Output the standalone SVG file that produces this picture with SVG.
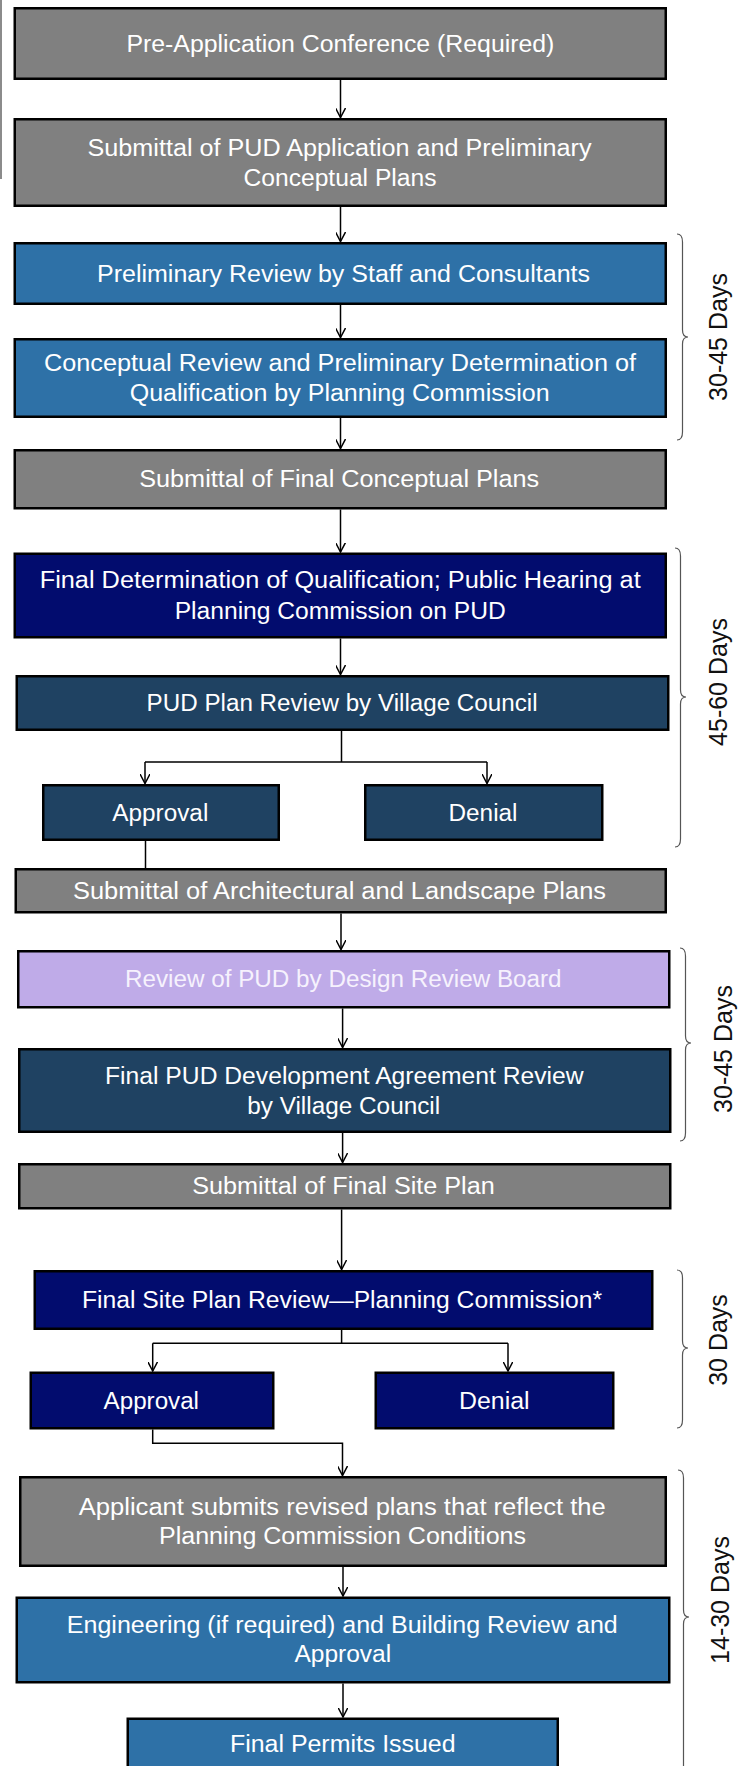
<svg xmlns="http://www.w3.org/2000/svg" width="748" height="1766" viewBox="0 0 748 1766">
<defs>
<marker id="arr" viewBox="0 0 10 10" refX="9.5" refY="5" markerWidth="10" markerHeight="10" markerUnits="userSpaceOnUse" orient="auto">
<path d="M0,0 L9.5,5 L0,10" fill="none" stroke="#000" stroke-width="1.5"/>
</marker>
<style>
rect{stroke:#000;stroke-width:2.5}
.gray{fill:#808080}
.blue{fill:#2E71A7}
.navy{fill:#020C6E}
.slate{fill:#1F4262}
.lav{fill:#BFABE8}
.t{font-family:"Liberation Sans",Arial,sans-serif;font-size:23px;fill:#fff;text-anchor:middle}
.lt{fill:#F6F2FD}
.c{fill:none;stroke:#000;stroke-width:1.5}
.br{fill:none;stroke:#555;stroke-width:1.2}
.d{font-family:"Liberation Sans",Arial,sans-serif;font-size:25px;fill:#111;text-anchor:middle}
</style>
</defs>
<rect width="748" height="1766" fill="#fff" style="stroke:none"/>
<line x1="1" y1="0" x2="1" y2="179" stroke="#6e6e6e" stroke-width="1.6"/>

<g id="n1"><rect class="gray" x="14.75" y="8.25" width="651" height="70.5"/><text class="t" x="340.4" y="51.5" textLength="428" lengthAdjust="spacingAndGlyphs">Pre-Application Conference (Required)</text></g>
<g id="n2"><rect class="gray" x="14.75" y="119.25" width="651" height="86.5"/><text class="t" x="339.5" y="155.5" textLength="504" lengthAdjust="spacingAndGlyphs">Submittal of PUD Application and Preliminary</text><text class="t" x="340" y="185.5" textLength="193" lengthAdjust="spacingAndGlyphs">Conceptual Plans</text></g>
<g id="n3"><rect class="blue" x="14.75" y="243.25" width="651" height="60.5"/><text class="t" x="343.5" y="281.5" textLength="493" lengthAdjust="spacingAndGlyphs">Preliminary Review by Staff and Consultants</text></g>
<g id="n4"><rect class="blue" x="14.75" y="339.25" width="651" height="77.5"/><text class="t" x="340" y="371" textLength="592" lengthAdjust="spacingAndGlyphs">Conceptual Review and Preliminary Determination of</text><text class="t" x="339.7" y="401" textLength="420" lengthAdjust="spacingAndGlyphs">Qualification by Planning Commission</text></g>
<g id="n5"><rect class="gray" x="14.75" y="450.25" width="651" height="58"/><text class="t" x="339.2" y="487" textLength="400" lengthAdjust="spacingAndGlyphs">Submittal of Final Conceptual Plans</text></g>
<g id="n6"><rect class="navy" x="14.75" y="553.75" width="651" height="83.5"/><text class="t" x="340.2" y="588" textLength="601" lengthAdjust="spacingAndGlyphs">Final Determination of Qualification; Public Hearing at</text><text class="t" x="340.2" y="619" textLength="331" lengthAdjust="spacingAndGlyphs">Planning Commission on PUD</text></g>
<g id="n7"><rect class="slate" x="16.75" y="676.25" width="651.5" height="53.5"/><text class="t" x="342.1" y="711" textLength="391" lengthAdjust="spacingAndGlyphs">PUD Plan Review by Village Council</text></g>
<g id="n8"><rect class="slate" x="43.25" y="785.25" width="235.5" height="54.5"/><text class="t" x="160.3" y="820.5" textLength="96" lengthAdjust="spacingAndGlyphs">Approval</text></g>
<g id="n9"><rect class="slate" x="365.25" y="785.25" width="237" height="54.5"/><text class="t" x="483" y="820.5" textLength="69" lengthAdjust="spacingAndGlyphs">Denial</text></g>
<g id="n10"><rect class="gray" x="15.75" y="869.25" width="650" height="43"/><text class="t" x="339.5" y="898.7" textLength="533" lengthAdjust="spacingAndGlyphs">Submittal of Architectural and Landscape Plans</text></g>
<g id="n11"><rect class="lav" x="18.25" y="951.25" width="651" height="56"/><text class="t lt" x="343.3" y="987" textLength="436.6" lengthAdjust="spacingAndGlyphs">Review of PUD by Design Review Board</text></g>
<g id="n12"><rect class="slate" x="19.25" y="1049.25" width="651" height="82.5"/><text class="t" x="344.3" y="1083.5" textLength="478.5" lengthAdjust="spacingAndGlyphs">Final PUD Development Agreement Review</text><text class="t" x="343.7" y="1113.5" textLength="193" lengthAdjust="spacingAndGlyphs">by Village Council</text></g>
<g id="n13"><rect class="gray" x="19.25" y="1164.25" width="651" height="44"/><text class="t" x="343.5" y="1194" textLength="302.5" lengthAdjust="spacingAndGlyphs">Submittal of Final Site Plan</text></g>
<g id="n14"><rect class="navy" x="34.75" y="1271.25" width="617.5" height="57.5"/><text class="t" x="342" y="1308" textLength="520" lengthAdjust="spacingAndGlyphs">Final Site Plan Review—Planning Commission*</text></g>
<g id="n15"><rect class="navy" x="30.75" y="1372.75" width="242.5" height="55.5"/><text class="t" x="151.3" y="1408.5" textLength="95.4" lengthAdjust="spacingAndGlyphs">Approval</text></g>
<g id="n16"><rect class="navy" x="375.75" y="1372.75" width="237.5" height="55.5"/><text class="t" x="494.3" y="1408.5" textLength="70.6" lengthAdjust="spacingAndGlyphs">Denial</text></g>
<g id="n17"><rect class="gray" x="20.25" y="1477.25" width="645.5" height="88.5"/><text class="t" x="342.3" y="1514.5" textLength="527" lengthAdjust="spacingAndGlyphs">Applicant submits revised plans that reflect the</text><text class="t" x="342.5" y="1543.5" textLength="367" lengthAdjust="spacingAndGlyphs">Planning Commission Conditions</text></g>
<g id="n18"><rect class="blue" x="16.75" y="1597.75" width="652.5" height="84.5"/><text class="t" x="342.3" y="1633" textLength="551" lengthAdjust="spacingAndGlyphs">Engineering (if required) and Building Review and</text><text class="t" x="342.8" y="1662" textLength="96.8" lengthAdjust="spacingAndGlyphs">Approval</text></g>
<g id="n19"><rect class="blue" x="127.75" y="1718.75" width="430" height="60"/><text class="t" x="342.8" y="1752" textLength="225.6" lengthAdjust="spacingAndGlyphs">Final Permits Issued</text></g>

<g id="connectors">
<path class="c" d="M340.5,80 V117.5" marker-end="url(#arr)"/>
<path class="c" d="M340.5,207 V241.5" marker-end="url(#arr)"/>
<path class="c" d="M340.5,305 V337.5" marker-end="url(#arr)"/>
<path class="c" d="M340.5,418 V448.5" marker-end="url(#arr)"/>
<path class="c" d="M340.5,509.5 V552" marker-end="url(#arr)"/>
<path class="c" d="M340.5,638.5 V674.5" marker-end="url(#arr)"/>
<path class="c" d="M341.5,731 V762 M145,762 H487"/>
<path class="c" d="M145,762 V783.5" marker-end="url(#arr)"/>
<path class="c" d="M487,762 V783.5" marker-end="url(#arr)"/>
<path class="c" d="M145.5,841 V868"/>
<path class="c" d="M341,913.5 V949.5" marker-end="url(#arr)"/>
<path class="c" d="M342.6,1008.5 V1047.5" marker-end="url(#arr)"/>
<path class="c" d="M342.6,1133 V1162.5" marker-end="url(#arr)"/>
<path class="c" d="M341.6,1209.5 V1269.5" marker-end="url(#arr)"/>
<path class="c" d="M341.6,1330 V1343.3 M152.7,1343.3 H508"/>
<path class="c" d="M152.7,1343.3 V1371" marker-end="url(#arr)"/>
<path class="c" d="M508,1343.3 V1371" marker-end="url(#arr)"/>
<path class="c" d="M152.7,1429.5 V1443.3 H342.5 V1475.5" marker-end="url(#arr)"/>
<path class="c" d="M343,1567 V1596" marker-end="url(#arr)"/>
<path class="c" d="M343,1683.5 V1717" marker-end="url(#arr)"/>
</g>

<g id="braces">
<path class="br" d="M677,234 Q682.5,234 682.5,242 V330 Q682.5,337 688,337 Q682.5,337 682.5,344 V432 Q682.5,440 677,440"/>
<path class="br" d="M675,548 Q680.5,548 680.5,556 V690 Q680.5,697 686,697 Q680.5,697 680.5,704 V839 Q680.5,847 675,847"/>
<path class="br" d="M680,948 Q685.5,948 685.5,956 V1036 Q685.5,1043 691,1043 Q685.5,1043 685.5,1050 V1133 Q685.5,1141 680,1141"/>
<path class="br" d="M677,1270 Q682.5,1270 682.5,1278 V1341 Q682.5,1348 688,1348 Q682.5,1348 682.5,1355 V1420 Q682.5,1428 677,1428"/>
<path class="br" d="M678,1470 Q683.5,1470 683.5,1478 V1610 Q683.5,1617 689,1617 Q683.5,1617 683.5,1624 V1772 Q683.5,1780 678,1780"/>
</g>

<g id="labels">
<text class="d" transform="translate(726.5,337) rotate(-90)">30-45 Days</text>
<text class="d" transform="translate(726.5,682) rotate(-90)">45-60 Days</text>
<text class="d" transform="translate(732,1049) rotate(-90)">30-45 Days</text>
<text class="d" transform="translate(726.5,1340) rotate(-90)">30 Days</text>
<text class="d" transform="translate(728.5,1600) rotate(-90)">14-30 Days</text>
</g>
</svg>
